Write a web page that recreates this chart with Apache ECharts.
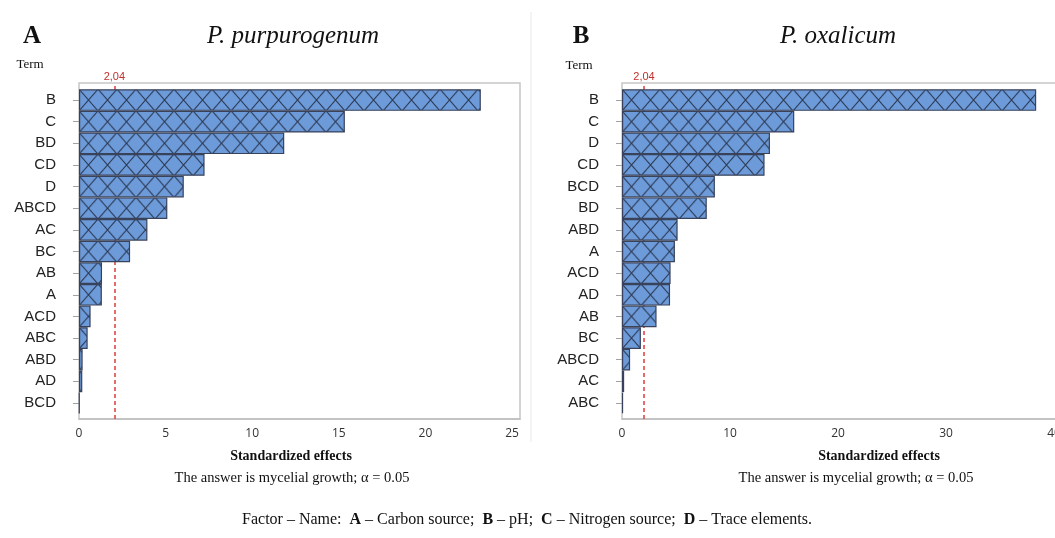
<!DOCTYPE html>
<html>
<head>
<meta charset="utf-8">
<script src="https://cdn.jsdelivr.net/npm/echarts@6/dist/echarts.min.js"></script>
<style>
  html, body { margin: 0; padding: 0; background: #fff; }
  #chart { width: 1055px; height: 538px; }
</style>
</head>
<body>
<div id="chart"></div>
<script>
// panel A - P. purpurogenum
const termsA = ['B', 'C', 'BD', 'CD', 'D', 'ABCD', 'AC', 'BC', 'AB', 'A', 'ACD', 'ABC', 'ABD', 'AD', 'BCD']
const effectsA = [23.2, 15.35, 11.85, 7.25, 6.05, 5.1, 3.95, 2.95, 1.33, 1.32, 0.67, 0.5, 0.21, 0.19, 0.03]
const ticksA = [0, 5, 10, 15, 20, 25]

// panel B - P. oxalicum
const termsB = ['B', 'C', 'D', 'CD', 'BCD', 'BD', 'ABD', 'A', 'ACD', 'AD', 'AB', 'BC', 'ABCD', 'AC', 'ABC']
const effectsB = [38.35, 15.95, 13.7, 13.2, 8.6, 7.85, 5.15, 4.9, 4.5, 4.45, 3.2, 1.75, 0.75, 0.2, 0.1]
const ticksB = [0, 10, 20, 30, 40]

const critical = 2.04
const criticalLabel = '2,04'

const SERIF = '"Liberation Serif", "Times New Roman", serif'
const SANS = '"Liberation Sans", Arial, sans-serif'

// crosshatch tile for the bars
const makeHatch = () => {
  const c = document.createElement('canvas')
  c.width = 19
  c.height = 22
  const g = c.getContext('2d')
  g.fillStyle = '#6d9bd9'
  g.fillRect(0, 0, 19, 22)
  g.strokeStyle = '#2a3650'
  g.lineWidth = 1.1
  g.beginPath()
  g.moveTo(-19, -22); g.lineTo(38, 44)
  g.moveTo(38, -22); g.lineTo(-19, 44)
  g.stroke()
  return c
}
const hatchTile = makeHatch()
const bandH = 324.6 / 15

// panel geometry
const panels = [
  { left: 79, width: 441, max: 441 / 17.32, terms: termsA, values: effectsA, ticks: ticksA },
  { left: 622, width: 445, max: 445 / 10.8, terms: termsB, values: effectsB, ticks: ticksB },
]

const grid = []
const xAxis = []
const yAxis = []
const series = []

panels.forEach((p, i) => {
  // frame grid (border, x labels, critical line)
  grid.push({ left: p.left, top: 83, width: p.width, height: 336, show: true, borderColor: '#c6c6c6', borderWidth: 1.5, outerBoundsMode: 'none' })
  // bar grid
  grid.push({ left: p.left, top: 89.2, width: p.width, height: 324.6, outerBoundsMode: 'none' })

  xAxis.push({
    gridIndex: i * 2, type: 'value', min: 0, max: p.max,
    splitLine: { show: false },
    axisLine: { show: true, lineStyle: { color: '#bdbdbd', width: 1.5 } },
    axisTick: { show: false },
    axisLabel: { customValues: p.ticks, fontSize: 12, color: '#333', fontFamily: '"Open Sans", sans-serif', margin: 9 },
  })
  xAxis.push({ gridIndex: i * 2 + 1, type: 'value', min: 0, max: p.max, show: false })

  yAxis.push({ gridIndex: i * 2, type: 'value', min: 0, max: 1, show: false })
  yAxis.push({
    gridIndex: i * 2 + 1, type: 'category', data: p.terms, inverse: true,
    axisLine: { show: false },
    axisTick: { show: true, alignWithLabel: true, length: 6, lineStyle: { color: '#a0a0a0' } },
    axisLabel: { fontSize: 15, color: '#222', fontFamily: SANS, margin: 23 },
    splitLine: { show: false },
  })

  series.push({
    type: 'bar',
    xAxisIndex: i * 2 + 1,
    yAxisIndex: i * 2 + 1,
    data: p.values,
    barCategoryGap: '0%',
    z: 3,
    itemStyle: {
      color: { image: hatchTile, repeat: 'repeat', x: p.left, y: 89.2, scaleY: bandH / 22 },
      borderColor: '#38425a',
      borderWidth: 1.2,
    },
  })

  series.push({
    type: 'line',
    xAxisIndex: i * 2,
    yAxisIndex: i * 2,
    data: [],
    z: 1,
    markLine: {
      silent: true,
      z: 1,
      symbol: 'none',
      lineStyle: { color: '#e04848', type: [4, 3], width: 1.6 },
      label: { position: 'end', formatter: criticalLabel, color: '#c0302e', fontSize: 11, fontFamily: SANS, distance: 1 },
      data: [{ xAxis: critical }],
    },
  })
})

const txt = (x, y, text, size, extra) => ({
  type: 'text', x, y, silent: true,
  style: Object.assign({ text, fontSize: size, fontFamily: SERIF, fill: '#111', align: 'center', verticalAlign: 'middle' }, extra || {}),
})

const graphic = [
  { type: 'line', silent: true, shape: { x1: 531, y1: 12, x2: 531, y2: 442 }, style: { stroke: '#e8e8e8', lineWidth: 1 } },
  txt(32, 37, 'A', 25, { fontWeight: 'bold' }),
  txt(293, 36, 'P. purpurogenum', 25, { fontStyle: 'italic' }),
  txt(581, 37, 'B', 25, { fontWeight: 'bold' }),
  txt(838, 36, 'P. oxalicum', 25, { fontStyle: 'italic' }),
  txt(30, 65, 'Term', 13),
  txt(579, 66, 'Term', 13),
  txt(291, 456, 'Standardized effects', 14, { fontWeight: 'bold' }),
  txt(879, 456, 'Standardized effects', 14, { fontWeight: 'bold' }),
  txt(292, 478, 'The answer is mycelial growth; α = 0.05', 14.5),
  txt(856, 478, 'The answer is mycelial growth; α = 0.05', 14.5),
  txt(527, 520,
    '{n|Factor – Name:  }{b|A}{n| – Carbon source;  }{b|B}{n| – pH;  }{b|C}{n| – Nitrogen source;  }{b|D}{n| – Trace elements.}',
    16, {
      rich: {
        n: { fontSize: 16, fontFamily: SERIF, fill: '#111' },
        b: { fontSize: 16, fontFamily: SERIF, fontWeight: 'bold', fill: '#111' },
      },
    }),
]

const chart = echarts.init(document.getElementById('chart'))
chart.setOption({
  animation: false,
  backgroundColor: '#fff',
  grid,
  xAxis,
  yAxis,
  series,
  graphic,
})
window.addEventListener('resize', () => chart.resize())
</script>
</body>
</html>
